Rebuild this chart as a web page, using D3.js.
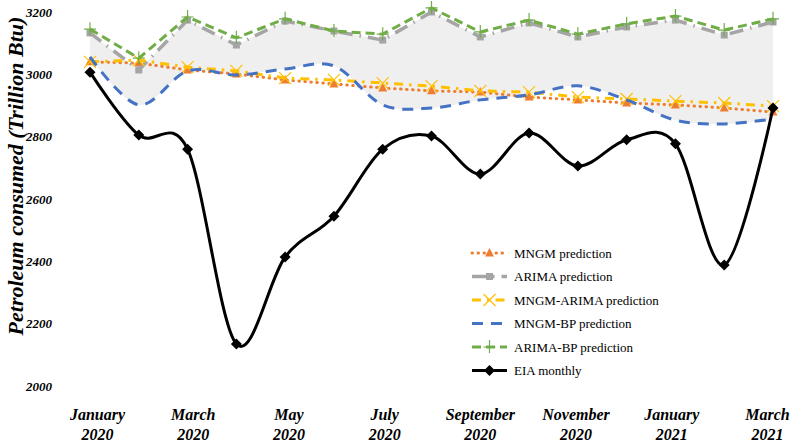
<!DOCTYPE html>
<html>
<head>
<meta charset="utf-8">
<script src="https://cdn.jsdelivr.net/npm/d3@7"></script>
<style>
  html, body { margin: 0; padding: 0; background: #fff; }
  svg { display: block; }
</style>
</head>
<body>
<svg id="chart" width="790" height="441"></svg>
<script>
// ---------- data ----------
const months = ["Jan 2020","Feb 2020","Mar 2020","Apr 2020","May 2020","Jun 2020","Jul 2020","Aug 2020",
                "Sep 2020","Oct 2020","Nov 2020","Dec 2020","Jan 2021","Feb 2021","Mar 2021"];
const xTickLabels = [["January","2020"],["March","2020"],["May","2020"],["July","2020"],
                     ["September","2020"],["November","2020"],["January","2021"],["March","2021"]];
const xTickMonths = ["Jan 2020","Mar 2020","May 2020","Jul 2020","Sep 2020","Nov 2020","Jan 2021","Mar 2021"];
const yTicks = [2000, 2200, 2400, 2600, 2800, 3000, 3200];

const mngm      = [3040,3036,3014,3001,2982,2969,2956,2947,2943,2927,2918,2908,2902,2892,2879];
const arima     = [3133,3014,3174,3094,3171,3139,3110,3200,3120,3165,3120,3152,3174,3126,3168];
const mngmArima = [3040,3046,3023,3011,2988,2982,2972,2962,2947,2943,2927,2921,2914,2908,2898];
const mngmBp    = [3056,2902,3011,2998,3017,3027,2902,2892,2918,2934,2963,2918,2853,2841,2857];
const arimaBp   = [3145,3052,3184,3117,3178,3139,3129,3213,3136,3174,3129,3162,3187,3142,3178];
const eia       = [3007,2805,2760,2135,2414,2545,2760,2802,2680,2812,2706,2790,2777,2388,2892];

const seriesNames = ["MNGM prediction","ARIMA prediction","MNGM-ARIMA prediction","MNGM-BP prediction","ARIMA-BP prediction","EIA monthly"];

// ---------- setup ----------
const svg = d3.select("#chart");
const x = d3.scalePoint().domain(months).range([90, 773]);
const xLabel = d3.scalePoint().domain(xTickMonths).range([97, 767]);
const y = d3.scaleLinear().domain([2000, 3200]).range([386, 12]);

const serif = "'Liberation Serif','Times New Roman',serif";

const styles = [
  {name: seriesNames[0], data: mngm, color: "#ED7D31", width: 3, dash: "0.5 5.5", cap: "round", curve: d3.curveLinear, marker: "triangle"},
  {name: seriesNames[1], data: arima, color: "#A5A5A5", width: 3.5, dash: "14 7 1.5 7", cap: "butt", curve: d3.curveLinear, marker: "square"},
  {name: seriesNames[2], data: mngmArima, color: "#FFC000", width: 3, dash: "9 6 2.5 6", cap: "butt", curve: d3.curveLinear, marker: "x"},
  {name: seriesNames[3], data: mngmBp, color: "#4472C4", width: 3, dash: "11 8", cap: "butt", curve: d3.curveCardinal.tension(0), marker: null},
  {name: seriesNames[4], data: arimaBp, color: "#70AD47", width: 3, dash: "9 5", cap: "butt", curve: d3.curveLinear, marker: "plus"},
  {name: seriesNames[5], data: eia, color: "#000000", width: 3, dash: null, cap: "butt", curve: d3.curveCardinal.tension(0), marker: "diamond"}
];

// ---------- shaded band ----------
const topLine = d3.line().x((d,i)=>x(months[i])).y(d=>y(d)).curve(d3.curveLinear);
const botLine = d3.line().x(d=>x(d.m)).y(d=>y(d.v)).curve(d3.curveCardinal.tension(0));
const topPath = topLine(arima);
const botPts = mngmBp.map((v,i)=>({m: months[i], v})).reverse();
const botPath = botLine(botPts).replace(/^M/, "L");
svg.append("path").attr("d", topPath + botPath + "Z").attr("fill", "#F0EFF0").attr("stroke", "none");

// ---------- markers ----------
function drawMarker(g, type, cx, cy, color) {
  if (type === "triangle") {
    g.append("path").attr("d", `M${cx},${cy-5}L${cx+4.5},${cy+3.5}L${cx-4.5},${cy+3.5}Z`).attr("fill", color);
  } else if (type === "square") {
    g.append("rect").attr("x", cx-3.5).attr("y", cy-3.5).attr("width", 7).attr("height", 7).attr("fill", color);
  } else if (type === "x") {
    g.append("path").attr("d", `M${cx-6},${cy-6}L${cx+6},${cy+6}M${cx+6},${cy-6}L${cx-6},${cy+6}`)
      .attr("stroke", color).attr("stroke-width", 1.2).attr("fill", "none");
  } else if (type === "plus") {
    g.append("path").attr("d", `M${cx-6},${cy}L${cx+6},${cy}M${cx},${cy-7}L${cx},${cy+6}`)
      .attr("stroke", color).attr("stroke-width", 1.2).attr("fill", "none");
  } else if (type === "diamond") {
    g.append("path").attr("d", `M${cx},${cy-5.5}L${cx+5.5},${cy}L${cx},${cy+5.5}L${cx-5.5},${cy}Z`).attr("fill", color);
  }
}

// ---------- series ----------
styles.forEach(s => {
  const g = svg.append("g");
  const line = d3.line().x((d,i)=>x(months[i])).y(d=>y(d)).curve(s.curve);
  g.append("path").attr("d", line(s.data)).attr("fill", "none")
    .attr("stroke", s.color).attr("stroke-width", s.width)
    .attr("stroke-dasharray", s.dash).attr("stroke-linecap", s.cap).attr("stroke-linejoin", "round");
  if (s.marker) s.data.forEach((v,i) => drawMarker(g, s.marker, x(months[i]), y(v), s.color));
});

// ---------- y axis ----------
const yAxis = d3.axisLeft(y).tickValues(yTicks).tickSize(0).tickPadding(0).tickFormat(d3.format("d"));
const yg = svg.append("g").attr("transform", "translate(52,0)").call(yAxis);
yg.select(".domain").remove();
yg.selectAll("text").attr("font-family", serif).attr("font-size", 13).attr("font-weight", "bold")
  .attr("font-style", "italic").attr("fill", "#000");

svg.append("text").attr("transform", "translate(23,176) rotate(-90)").attr("text-anchor", "middle")
  .attr("font-family", serif).attr("font-size", 22).attr("font-weight", "bold").attr("font-style", "italic")
  .text("Petroleum consumed (Trillion Btu)");

// ---------- x axis ----------
const xAxis = d3.axisBottom(xLabel).tickValues(xTickMonths).tickSize(0).tickPadding(0).tickFormat(()=>"");
const xg = svg.append("g").attr("transform", "translate(0,400)").call(xAxis);
xg.select(".domain").remove();
xg.selectAll(".tick text").each(function(d) {
  const idx = xTickMonths.indexOf(d);
  const t = d3.select(this).attr("y", 0).attr("dy", null)
    .attr("font-family", serif).attr("font-size", 16).attr("font-weight", "bold").attr("font-style", "italic")
    .attr("fill", "#000").attr("text-anchor", "middle");
  t.append("tspan").attr("x", 0).attr("y", 20).text(xTickLabels[idx][0]);
  t.append("tspan").attr("x", 0).attr("y", 39.5).text(xTickLabels[idx][1]);
});

// ---------- legend ----------
const legend = svg.append("g");
const legY0 = 253, legDy = 23.5;
styles.forEach((s, i) => {
  const yy = legY0 + i * legDy;
  const g = legend.append("g");
  g.append("line").attr("x1", 472).attr("x2", 507).attr("y1", yy).attr("y2", yy)
    .attr("stroke", s.color).attr("stroke-width", s.width).attr("stroke-dasharray", s.dash)
    .attr("stroke-linecap", s.cap);
  if (s.marker) drawMarker(g, s.marker, 489.5, yy, s.color);
  g.append("text").attr("x", 514).attr("y", yy + 4.5).attr("font-family", serif).attr("font-size", 13)
    .attr("fill", "#000").text(s.name);
});
</script>
</body>
</html>
